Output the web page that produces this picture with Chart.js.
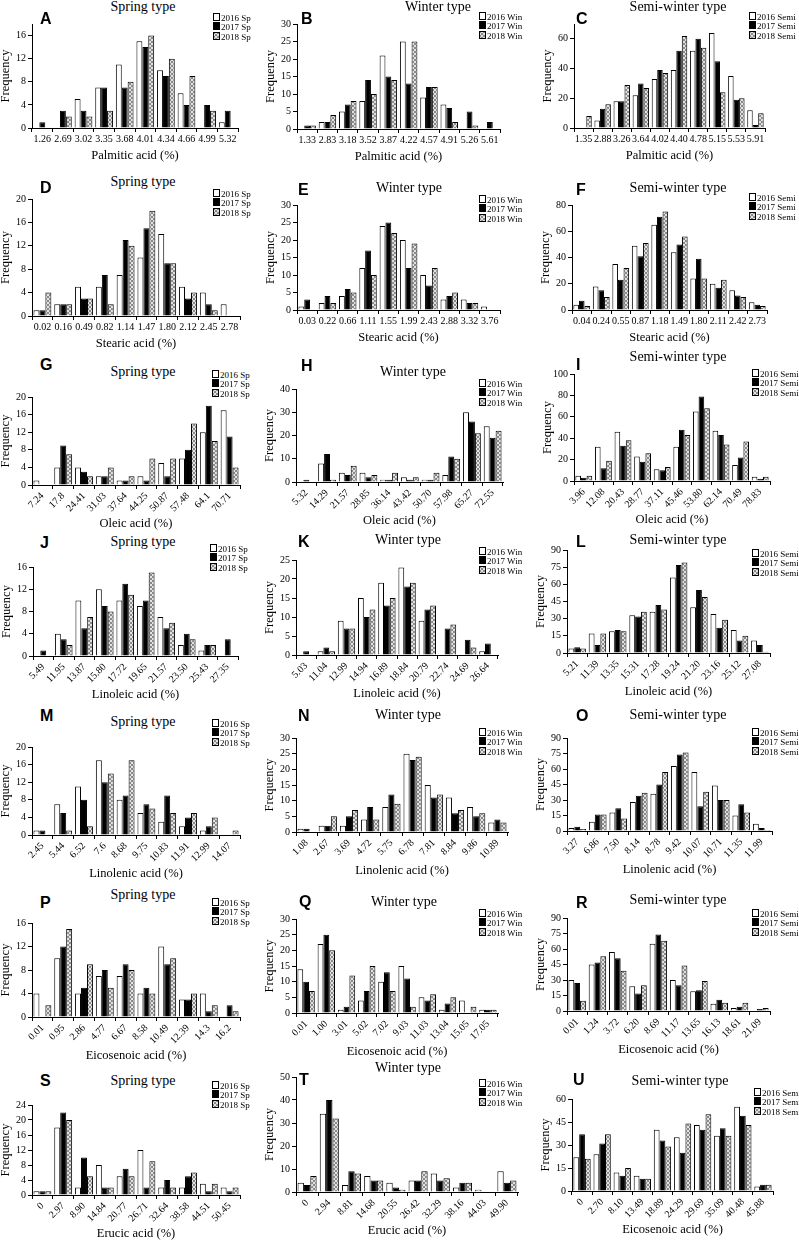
<!DOCTYPE html>
<html>
<head>
<meta charset="utf-8">
<script src="https://cdn.jsdelivr.net/npm/chart.js@4.4.0/dist/chart.umd.min.js"></script>
<style>
body { margin: 0; width: 799px; height: 1240px; background: #fff; position: relative; overflow: hidden; font-family: "Liberation Serif", "Times New Roman", serif; color: #000; }
canvas, .ttl, .let, .lg { position: absolute; }
.ttl { font-size: 14px; white-space: nowrap; transform: translate(-50%, -50%); }
.let { font-family: "Liberation Sans", Arial, sans-serif; font-weight: bold; font-size: 16px; transform: translateY(-50%); }
.lg { font-size: 9px; line-height: 9px; white-space: nowrap; }
.lg .b { display: inline-block; width: 5px; height: 6px; border: 1px solid #000; margin-right: 1px; vertical-align: -0.5px; }
</style>
</head>
<body>
<script>
// x categories and counts (2016 / 2017 / 2018) for each panel
var catsA = ["1.26","2.69","3.02","3.35","3.68","4.01","4.34","4.66","4.99","5.32"];
var A16 = [0,0,5,7,11,15,10,6,0,1];
var A17 = [1,3,3,7,7,14,9,4,4,3];
var A18 = [0,2,2,3,8,16,12,9,3,0];

var catsB = ["1.33","2.83","3.18","3.52","3.87","4.22","4.57","4.91","5.26","5.61"];
var B16 = [0,2,5,8,21,25,9,7,0,0];
var B17 = [1,2,7,14,15,13,12,6,5,2];
var B18 = [1,4,8,10,14,25,12,2,1,0];

var catsC = ["1.35","2.88","3.26","3.64","4.02","4.40","4.78","5.15","5.53","5.91"];
var C16 = [0,5,18,22,33,39,52,64,35,12];
var C17 = [0,13,18,30,39,52,60,45,19,2];
var C18 = [8,16,29,27,37,62,54,24,20,10];

var catsD = ["0.02","0.16","0.49","0.82","1.14","1.47","1.80","2.12","2.45","2.78"];
var D16 = [1,2,5,5,7,10,14,5,4,2];
var D17 = [1,2,3,7,13,15,9,3,2,0];
var D18 = [4,2,3,2,12,18,9,4,1,0];

var catsE = ["0.03","0.22","0.66","1.11","1.55","1.99","2.43","2.88","3.32","3.76"];
var E16 = [1,2,4,12,24,20,10,3,3,1];
var E17 = [3,4,6,17,25,12,7,4,2,0];
var E18 = [0,2,5,10,22,19,12,5,2,0];

var catsF = ["0.04","0.24","0.55","0.87","1.18","1.49","1.80","2.11","2.42","2.73"];
var F16 = [4,18,35,49,65,44,24,20,15,6];
var F17 = [7,15,23,41,71,50,39,17,11,4];
var F18 = [3,10,32,51,75,56,24,23,10,3];

var catsG = ["7.24","17.8","24.41","31.03","37.64","44.25","50.87","57.48","64.1","70.71"];
var G16 = [1,4,4,2,1,2,5,6,12,17];
var G17 = [0,9,3,2,1,1,2,8,18,11];
var G18 = [0,7,2,4,2,6,6,14,10,4];

var catsH = ["5.32","14.29","21.57","28.85","36.14","43.42","50.70","57.98","65.27","72.55"];
var H16 = [0,8,4,4,1,2,1,3,30,24];
var H17 = [1,12,3,2,1,1,1,11,26,19];
var H18 = [0,1,7,3,4,2,4,10,21,22];

var catsI = ["3.96","12.08","20.43","28.77","37.11","45.46","53.80","62.14","70.49","78.83"];
var I16 = [5,32,46,23,11,32,65,47,15,4];
var I17 = [3,12,33,18,10,48,79,43,22,2];
var I18 = [5,19,38,26,13,43,68,34,37,4];

var catsJ = ["5.49","11.95","13.87","15.80","17.72","19.65","21.57","23.50","25.43","27.35"];
var J16 = [0,4,10,12,10,9,7,2,1,0];
var J17 = [1,3,5,9,13,10,5,4,2,3];
var J18 = [0,2,7,8,11,15,6,3,2,0];

var catsK = ["5.03","11.04","12.99","14.94","16.89","18.84","20.79","22.74","24.69","26.64"];
var K16 = [0,1,9,15,19,23,9,0,0,1];
var K17 = [1,2,7,10,13,18,12,7,4,3];
var K18 = [0,1,7,12,15,19,13,8,2,0];

var catsL = ["5.21","11.39","13.35","15.31","17.28","19.24","21.20","23.16","25.12","27.08"];
var L16 = [4,17,19,33,36,66,40,34,20,11];
var L17 = [5,7,20,32,42,77,55,22,11,7];
var L18 = [4,17,19,36,38,79,49,29,15,1];

var catsM = ["2.45","5.44","6.52","7.6","8.68","9.75","10.83","11.91","12.99","14.07"];
var M16 = [1,7,11,17,8,5,3,2,1,0];
var M17 = [1,5,8,12,9,7,9,4,2,0];
var M18 = [0,1,2,14,17,6,5,5,4,1];

var catsN = ["1.08","2.67","3.69","4.72","5.75","6.78","7.81","8.84","9.86","10.89"];
var N16 = [1,2,2,4,8,25,15,11,8,3];
var N17 = [1,2,5,8,12,23,11,6,5,4];
var N18 = [0,5,7,4,9,24,12,7,6,3];

var catsO = ["3.27","6.86","7.50","8.14","8.78","9.42","10.07","10.71","11.35","11.99"];
var O16 = [3,9,18,28,36,63,57,44,15,7];
var O17 = [4,16,22,34,45,74,24,30,26,3];
var O18 = [2,16,12,37,57,76,38,30,18,1];

var catsP = ["0.01","0.95","2.86","4.77","6.67","8.58","10.49","12.39","14.3","16.2"];
var P16 = [4,10,4,7,7,4,12,3,4,0];
var P17 = [0,12,5,8,9,5,9,3,1,2];
var P18 = [2,15,9,5,8,4,10,4,2,1];

var catsQ = ["0.01","1.00","3.01","5.02","7.02","9.03","11.03","13.04","15.05","17.05"];
var Q16 = [14,22,1,4,10,15,5,1,4,1];
var Q17 = [10,25,2,7,13,11,4,3,0,1];
var Q18 = [7,20,12,15,7,2,6,5,2,1];

var catsR = ["0.01","1.24","3.72","6.20","8.69","11.17","13.65","16.13","18.61","21.09"];
var R16 = [30,45,57,24,65,30,19,7,3,0];
var R17 = [27,47,51,17,74,25,20,11,4,2];
var R18 = [10,53,39,25,68,44,29,8,8,3];

var catsS = ["0","2.97","8.90","14.84","20.77","26.71","32.64","38.58","44.51","50.45"];
var S16 = [1,18,2,8,5,12,2,2,3,2];
var S17 = [1,22,10,2,7,2,4,5,1,1];
var S18 = [1,20,5,2,5,9,2,6,3,2];

var catsT = ["0","2.94","8.81","14.68","20.55","26.42","32.29","38.16","44.03","49.90"];
var T16 = [4,34,3,7,4,5,8,2,1,9];
var T17 = [3,40,9,5,2,5,5,4,0,4];
var T18 = [7,32,8,5,1,9,6,4,0,5];

var catsU = ["0","2.70","8.10","13.49","18.89","24.29","29.69","35.09","40.48","45.88"];
var U16 = [22,24,12,10,40,35,43,36,55,3];
var U17 = [37,31,10,8,33,25,40,41,49,4];
var U18 = [21,37,15,8,29,44,50,36,43,4];

var typeTitles = ["Spring type", "Winter type", "Semi-winter type"];
var yearTags = ["Sp", "Win", "Semi"];
var yLabel = "Frequency";

// panel list: letter, data, y max/step, x title, column
// box = [axis x, top y, right x, baseline y]; tt = title centre; lt = letter; lg = legend
var panels = [
  {id:"A", cats:catsA, s:[A16,A17,A18], max:18, step:2, xt:"Palmitic acid (%)", col:0, box:[32,24,238,128], tt:[143,7], lt:[40,19], lg:[213,17]},
  {id:"B", cats:catsB, s:[B16,B17,B18], max:30, step:5, xt:"Palmitic acid (%)", col:1, box:[297,24,500,129], tt:[438,7], lt:[301,19], lg:[479,16]},
  {id:"C", cats:catsC, s:[C16,C17,C18], max:70, step:10, xt:"Palmitic acid (%)", col:2, box:[574,24,765,128], tt:[678,7], lt:[576,19], lg:[749,16]},
  {id:"D", cats:catsD, s:[D16,D17,D18], max:20, step:2, xt:"Stearic acid (%)", col:0, box:[32,199,240,316], tt:[143,182], lt:[40,188], lg:[213,193]},
  {id:"E", cats:catsE, s:[E16,E17,E18], max:30, step:5, xt:"Stearic acid (%)", col:1, box:[297,205,500,310], tt:[409,188], lt:[298,190], lg:[479,199]},
  {id:"F", cats:catsF, s:[F16,F17,F18], max:80, step:10, xt:"Stearic acid (%)", col:2, box:[572,205,767,310], tt:[678,188], lt:[576,190], lg:[749,197]},
  {id:"G", cats:catsG, s:[G16,G17,G18], max:20, step:4, xt:"Oleic acid (%)", col:0, box:[32,397,240,485], tt:[143,372], lt:[40,365], lg:[212,374], rot:true},
  {id:"H", cats:catsH, s:[H16,H17,H18], max:40, step:10, xt:"Oleic acid (%)", col:1, box:[296,389,503,482], tt:[413,372], lt:[301,366], lg:[479,383], rot:true},
  {id:"I", cats:catsI, s:[I16,I17,I18], max:100, step:20, xt:"Oleic acid (%)", col:2, box:[574,374,770,481], tt:[678,357], lt:[576,365], lg:[752,373], rot:true},
  {id:"J", cats:catsJ, s:[J16,J17,J18], max:16, step:4, xt:"Linoleic acid (%)", col:0, box:[33,567,238,656], tt:[143,542], lt:[40,543], lg:[210,548], rot:true},
  {id:"K", cats:catsK, s:[K16,K17,K18], max:25, step:5, xt:"Linoleic acid (%)", col:1, box:[296,560,498,655], tt:[408,540], lt:[298,542], lg:[479,551], rot:true},
  {id:"L", cats:catsL, s:[L16,L17,L18], max:90, step:15, xt:"Linoleic acid (%)", col:2, box:[567,550,770,653], tt:[678,540], lt:[576,542], lg:[752,553], rot:true},
  {id:"M", cats:catsM, s:[M16,M17,M18], max:20, step:4, xt:"Linolenic acid (%)", col:0, box:[32,747,240,835], tt:[143,722], lt:[40,716], lg:[212,723], rot:true},
  {id:"N", cats:catsN, s:[N16,N17,N18], max:30, step:5, xt:"Linolenic acid (%)", col:1, box:[296,738,508,832], tt:[408,715], lt:[298,716], lg:[479,732], rot:true},
  {id:"O", cats:catsO, s:[O16,O17,O18], max:90, step:15, xt:"Linolenic acid (%)", col:2, box:[567,738,772,831], tt:[678,715], lt:[576,716], lg:[752,732], rot:true},
  {id:"P", cats:catsP, s:[P16,P17,P18], max:16, step:4, xt:"Eicosenoic acid (%)", col:0, box:[32,923,240,1017], tt:[143,895], lt:[40,903], lg:[212,902], rot:true},
  {id:"Q", cats:catsQ, s:[Q16,Q17,Q18], max:30, step:5, xt:"Eicosenoic acid (%)", col:1, box:[296,919,498,1013], tt:[404,902], lt:[299,902], lg:[479,913], rot:true},
  {id:"R", cats:catsR, s:[R16,R17,R18], max:90, step:15, xt:"Eicosenoic acid (%)", col:2, box:[567,918,770,1011], tt:[678,900], lt:[576,903], lg:[752,913], rot:true},
  {id:"S", cats:catsS, s:[S16,S17,S18], max:24, step:4, xt:"Erucic acid (%)", col:0, box:[32,1105,240,1195], tt:[143,1081], lt:[40,1081], lg:[212,1085], rot:true},
  {id:"T", cats:catsT, s:[T16,T17,T18], max:50, step:10, xt:"Erucic acid (%)", col:1, box:[296,1077,518,1192], tt:[408,1068], lt:[299,1080], lg:[479,1083], rot:true},
  {id:"U", cats:catsU, s:[U16,U17,U18], max:60, step:15, xt:"Eicosenoic acid (%)", col:2, box:[572,1099,773,1191], tt:[680,1081], lt:[573,1080], lg:[754,1092], rot:true}
];

var serif = "'Liberation Serif', 'Times New Roman', serif";

// grey cross-hatch used for the 2018 bars
var pc = document.createElement("canvas");
pc.width = 4; pc.height = 4;
var g = pc.getContext("2d");
g.fillStyle = "#e2e2e2";
g.fillRect(0, 0, 4, 4);
g.fillStyle = "#8a8a8a";
for (var k = 0; k < 4; k++) {
  g.fillRect(k, k, 1, 1);
  g.fillRect(3 - k, k, 1, 1);
}
var hatch = g.createPattern(pc, "repeat");
var hatchUrl = pc.toDataURL();

function addDiv(cls, html, x, y) {
  var d = document.createElement("div");
  d.className = cls;
  d.innerHTML = html;
  d.style.left = x + "px";
  d.style.top = y + "px";
  document.body.appendChild(d);
  return d;
}

function drawPanel(p) {
  var yW = 34, padTop = 8, padRight = 6;
  var xH = p.rot ? 46 : 35;
  var ax = p.box[0], top = p.box[1], right = p.box[2], base = p.box[3];

  var cv = document.createElement("canvas");
  var left = ax - yW;
  cv.width = right - left + padRight;
  cv.height = padTop + (base - top) + xH;
  cv.style.left = left + "px";
  cv.style.top = (top - padTop) + "px";
  document.body.appendChild(cv);

  var tag = yearTags[p.col];
  var rot = p.rot ? 45 : 0;

  new Chart(cv, {
    type: "bar",
    data: {
      labels: p.cats,
      datasets: [
        { label: "2016 " + tag, data: p.s[0], backgroundColor: "#fff", borderColor: "#000", borderWidth: 1 },
        { label: "2017 " + tag, data: p.s[1], backgroundColor: "#000", borderColor: "#000", borderWidth: 1 },
        { label: "2018 " + tag, data: p.s[2], backgroundColor: hatch, borderColor: "#000", borderWidth: 1 }
      ]
    },
    options: {
      responsive: false,
      animation: false,
      devicePixelRatio: 1,
      layout: { padding: { top: padTop, right: padRight, left: 0, bottom: 0 } },
      plugins: { legend: { display: false }, tooltip: { enabled: false } },
      datasets: { bar: { categoryPercentage: 0.86, barPercentage: 1 } },
      scales: {
        x: {
          grid: { display: true, drawOnChartArea: false, offset: true, tickLength: 4, color: "#000" },
          border: { color: "#000" },
          ticks: { color: "#000", font: { family: serif, size: 10 }, autoSkip: false, minRotation: rot, maxRotation: rot, padding: 1 },
          title: { display: true, text: p.xt, color: "#000", font: { family: serif, size: 12.5 }, padding: 0 },
          afterFit: function (s) { s.height = xH; }
        },
        y: {
          min: 0,
          max: p.max,
          grid: { display: true, drawOnChartArea: false, tickLength: 4, color: "#000" },
          border: { color: "#000" },
          ticks: { stepSize: p.step, color: "#000", font: { family: serif, size: 10 }, padding: 2 },
          title: { display: true, text: yLabel, color: "#000", font: { family: serif, size: 12.5 }, padding: 0 },
          afterFit: function (s) { s.width = yW; }
        }
      }
    }
  });

  addDiv("ttl", typeTitles[p.col], p.tt[0], p.tt[1]);
  addDiv("let", p.id, p.lt[0], p.lt[1]);

  var boxes = [
    '<span class="b" style="background:#fff"></span>',
    '<span class="b" style="background:#000"></span>',
    '<span class="b" style="background-image:url(' + hatchUrl + ')"></span>'
  ];
  for (var i = 0; i < 3; i++) {
    addDiv("lg", boxes[i] + (2016 + i) + " " + tag, p.lg[0], p.lg[1] - 4.5 + i * 9.5);
  }
}

for (var n = 0; n < panels.length; n++) {
  drawPanel(panels[n]);
}
</script>
</body>
</html>
